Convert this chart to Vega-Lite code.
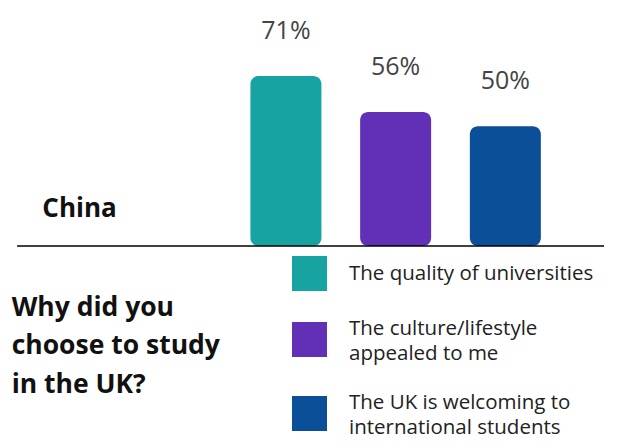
{
  "$schema": "https://vega.github.io/schema/vega-lite/v6.json",
  "width": 624,
  "height": 447,
  "autosize": {"type": "fit", "contains": "padding"},
  "padding": 0,
  "background": "white",
  "config": {"view": {"stroke": null}},
  "datasets": {
    "bars": [
      {"reason": "The quality of universities", "pos": 1, "pct": 71, "label": "71%"},
      {"reason": "The culture/lifestyle appealed to me", "pos": 2, "pct": 56, "label": "56%"},
      {"reason": "The UK is welcoming to international students", "pos": 3, "pct": 50, "label": "50%"}
    ]
  },
  "layer": [
    {
      "data": {"name": "bars"},
      "mark": {"type": "bar", "width": 71, "cornerRadius": 8},
      "encoding": {
        "x": {"field": "pos", "type": "quantitative", "scale": {"domain": [-1.5605, 4.0359], "nice": false, "zero": false}, "axis": null},
        "y": {"field": "pct", "type": "quantitative", "scale": {"domain": [-84, 102.8], "nice": false, "zero": false}, "axis": null},
        "y2": {"datum": 0},
        "color": {
          "field": "reason",
          "type": "nominal",
          "scale": {
            "domain": ["The quality of universities", "The culture/lifestyle appealed to me", "The UK is welcoming to international students"],
            "range": ["#17a3a1", "#6230b6", "#0b4f98"]
          },
          "legend": {
            "orient": "none",
            "legendX": 292,
            "legendY": 256,
            "title": null,
            "padding": 0,
            "symbolType": "square",
            "symbolSize": 1225,
            "symbolStrokeWidth": 0,
            "symbolOpacity": 1,
            "labelFont": "Open Sans",
            "labelFontSize": 20.5,
            "labelColor": "#222222",
            "labelOffset": 22,
            "labelLimit": 0,
            "rowPadding": 28,
            "labelExpr": "datum.label == 'The culture/lifestyle appealed to me' ? ['The culture/lifestyle', 'appealed to me'] : datum.label == 'The UK is welcoming to international students' ? ['The UK is welcoming to', 'international students'] : datum.label",
            "encode": {
              "labels": {
                "update": {
                  "lineHeight": {"value": 25},
                  "dy": {"signal": "length(datum.label) > 30 ? -10.5 : 0"}
                }
              }
            }
          }
        }
      }
    },
    {
      "data": {"name": "bars"},
      "mark": {"type": "text", "dy": -37, "baseline": "alphabetic", "align": "center", "font": "Open Sans", "fontSize": 25, "color": "#444444"},
      "encoding": {
        "x": {"field": "pos", "type": "quantitative"},
        "y": {"field": "pct", "type": "quantitative"},
        "text": {"field": "label"}
      }
    },
    {
      "data": {"values": [{}]},
      "mark": {"type": "rule", "color": "#000000", "strokeWidth": 1.5},
      "encoding": {
        "x": {"datum": -1.45},
        "x2": {"datum": 3.9},
        "y": {"datum": 0}
      }
    },
    {
      "data": {"values": [{}]},
      "mark": {"type": "text", "text": "China", "align": "left", "baseline": "alphabetic", "font": "Open Sans", "fontWeight": "bold", "fontSize": 26, "color": "#111111"},
      "encoding": {
        "x": {"datum": -1.22},
        "y": {"datum": 12.1}
      }
    },
    {
      "data": {"values": [{}]},
      "mark": {"type": "text", "text": ["Why did you", "choose to study", "in the UK?"], "align": "left", "baseline": "alphabetic", "font": "Open Sans", "fontWeight": "bold", "fontSize": 26.5, "lineHeight": 38.5, "color": "#111111"},
      "encoding": {
        "x": {"datum": -1.5},
        "y": {"datum": -29.2}
      }
    }
  ]
}
